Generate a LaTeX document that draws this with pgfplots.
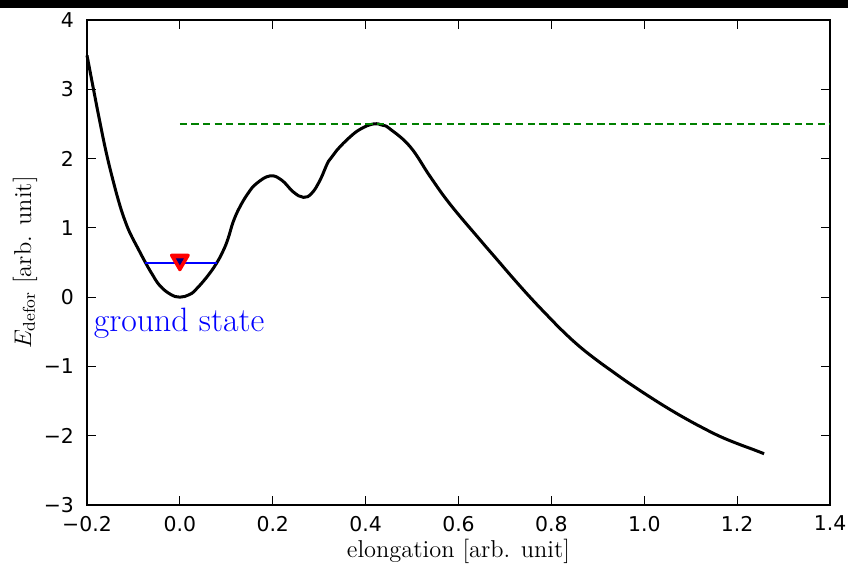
\documentclass[border=0pt]{standalone}
\usepackage{pgfplots}
\pgfplotsset{compat=1.18}
\usepackage{fontspec}
\newfontfamily\tickfont{DejaVu Sans}
\definecolor{mplgreen}{rgb}{0,0.5,0}
\definecolor{navy}{rgb}{0,0,0.5}
\begin{document}
\begin{tikzpicture}
\begin{axis}[
  scale only axis, width=371.5pt, height=242.5pt,
  xmin=-0.2, xmax=1.4, ymin=-3, ymax=4,
  xtick={-0.2,0,0.2,0.4,0.6,0.8,1.0,1.2,1.4},
  xticklabels={−0.2,0.0,0.2,0.4,0.6,0.8,1.0,1.2,1.4},
  ytick={-3,-2,-1,0,1,2,3,4},
  yticklabels={−3,−2,−1,0,1,2,3,4},
  tick align=inside, major tick length=4.5pt,
  tick style={black, line width=0.6pt},
  axis line style={line width=0.6pt},
  ticklabel style={font=\fontsize{10.2}{12}\tickfont},
  xticklabel style={yshift=-2pt},
  yticklabel style={xshift=-3pt},
  xlabel={elongation [arb. unit]},
  ylabel={$E_{\mathrm{defor}}$ [arb. unit]},
  label style={font=\fontsize{12.2}{14}\selectfont},
  xlabel style={at={(axis description cs:0.5,0)}, anchor=center, yshift=-23pt},
  ylabel style={at={(axis description cs:0,0.5)}, anchor=center, yshift=31pt},
  clip=false,
]
\addplot[black, line width=1.5pt, smooth, tension=0.7] coordinates {
(-0.200,3.49) (-0.186,3.00) (-0.172,2.52) (-0.158,2.07) (-0.143,1.66)
(-0.129,1.32) (-0.118,1.10) (-0.107,0.92) (-0.090,0.70) (-0.075,0.51)
(-0.060,0.335) (-0.043,0.165) (-0.020,0.04) (0.000,0.00) (0.020,0.035)
(0.033,0.10) (0.058,0.29) (0.079,0.49) (0.094,0.68) (0.104,0.85)
(0.115,1.09) (0.129,1.30) (0.147,1.50) (0.165,1.64) (0.194,1.75)
(0.219,1.69) (0.244,1.52) (0.266,1.44) (0.284,1.50) (0.302,1.69)
(0.320,1.96) (0.338,2.12) (0.366,2.31) (0.390,2.43) (0.417,2.50)
(0.437,2.48) (0.452,2.43) (0.496,2.17) (0.539,1.74) (0.582,1.34)
(0.646,0.83) (0.682,0.55) (0.718,0.27) (0.754,0.00) (0.790,-0.255)
(0.826,-0.50) (0.862,-0.72) (0.898,-0.91) (0.933,-1.08) (0.969,-1.25)
(1.019,-1.47) (1.055,-1.62) (1.091,-1.76) (1.127,-1.89) (1.163,-2.01)
(1.199,-2.11) (1.235,-2.20) (1.258,-2.26)
};
\addplot[mplgreen, line width=1pt, dash pattern=on 3.6pt off 2.2pt] coordinates {(0,2.5) (1.4,2.5)};
\addplot[only marks, red, mark=triangle*, mark size=4.8pt,
  mark options={yshift=1.2pt, rotate=180, line width=1.6pt, line join=round, fill=red}] coordinates {(0,0.5)};
\addplot[blue, line width=1pt] coordinates {(-0.075,0.5) (0.079,0.5)};
\addplot[only marks, navy, mark=triangle*, mark size=1.9pt,
  mark options={yshift=0.9pt, rotate=180, fill=navy}] coordinates {(0,0.5)};
\node[anchor=base west, text=blue, font=\fontsize{16.9}{20}\selectfont, inner sep=0pt] at (axis cs:-0.186,-0.5) {ground state};
\coordinate (SW) at (rel axis cs:0,0);
\coordinate (NE) at (rel axis cs:1,1);
\end{axis}
\path (SW) ++(-43.5pt,-33.5pt) coordinate (BL);
\path (NE) ++(9pt,10pt) coordinate (TR);
\pgfresetboundingbox
\path[use as bounding box] (BL) rectangle (TR);
\fill[black] (BL |- TR) rectangle ([yshift=-4pt]TR);
\end{tikzpicture}
\end{document}
